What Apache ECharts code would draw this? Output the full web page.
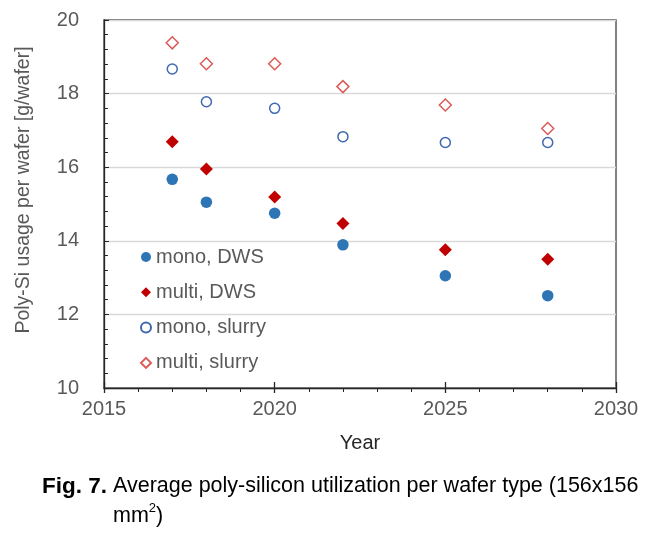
<!DOCTYPE html>
<html>
<head>
<meta charset="utf-8">
<script src="https://cdn.jsdelivr.net/npm/echarts@6/dist/echarts.min.js"></script>
<style>
html,body{margin:0;padding:0;background:#fff;}
#c{width:657px;height:537px;}
</style>
</head>
<body>
<div id="c"></div>
<script>
const years = [2017, 2018, 2020, 2022, 2025, 2028];
const monoDWS = [15.67, 15.05, 14.75, 13.89, 13.05, 12.51];
const multiDWS = [16.69, 15.95, 15.19, 14.47, 13.76, 13.50];
const monoSlurry = [18.67, 17.78, 17.60, 16.83, 16.67, 16.67];
const multiSlurry = [19.38, 18.81, 18.81, 18.19, 17.69, 17.05];
const seriesNames = ['mono, DWS', 'multi, DWS', 'mono, slurry', 'multi, slurry'];

const pairs = arr => years.map((y, i) => [y, arr[i]]);
const FONT = 'Liberation Sans, Arial, sans-serif';

const chart = echarts.init(document.getElementById('c'), null, {renderer: 'canvas'});
chart.setOption({
  animation: false,
  backgroundColor: '#fff',
  grid: {left: 104, right: 41, top: 20, bottom: 149, show: true, borderColor: '#404040', borderWidth: 1.3, containLabel: false},
  legend: {
    orient: 'vertical', left: 140, top: 247, itemGap: 15.3, padding: 0,
    itemWidth: 10, itemHeight: 10, itemTextGap: 4,
    textStyle: {fontFamily: FONT, fontSize: 20, color: '#595959', lineHeight: 20},
    data: seriesNames
  },
  xAxis: [{
    type: 'value', min: 2015, max: 2030, interval: 5, position: 'bottom',
    name: 'Year', nameLocation: 'middle', nameGap: 45,
    nameTextStyle: {fontFamily: FONT, fontSize: 20, color: '#262626'},
    axisLine: {show: true, lineStyle: {color: '#262626', width: 1.3}},
    axisTick: {show: true, inside: false, length: 5, lineStyle: {color: '#262626', width: 1.3}},
    minorTick: {show: true, splitNumber: 5, length: 4, lineStyle: {color: '#262626', width: 1}},
    axisLabel: {fontFamily: FONT, fontSize: 20, color: '#595959', margin: 11, formatter: v => String(v)},
    splitLine: {show: false}
  }, {
    type: 'value', min: 2015, max: 2030, interval: 5, position: 'bottom',
    axisLine: {show: false},
    axisTick: {show: true, inside: true, length: 6, lineStyle: {color: '#262626', width: 1.3}},
    axisLabel: {show: false},
    splitLine: {show: false}
  }],
  yAxis: {
    type: 'value', min: 10, max: 20, interval: 2,
    name: 'Poly-Si usage per wafer [g/wafer]', nameLocation: 'middle', nameGap: 70,
    nameTextStyle: {fontFamily: FONT, fontSize: 19.5, color: '#595959', padding: [0, 0, 0, 28]},
    axisLine: {show: true, lineStyle: {color: '#262626', width: 1.3}},
    axisTick: {show: true, inside: true, length: 5, lineStyle: {color: '#262626', width: 1}},
    minorTick: {show: true, splitNumber: 5, length: 4, lineStyle: {color: '#262626', width: 1}},
    axisLabel: {fontFamily: FONT, fontSize: 20, color: '#595959', margin: 25},
    splitLine: {show: true, lineStyle: {color: '#d9d9d9', width: 1.3}}
  },
  series: [
    {name: seriesNames[0], type: 'scatter', xAxisIndex: 0, data: pairs(monoDWS), symbol: 'circle', symbolSize: 11.5,
     itemStyle: {color: '#2E75B6', opacity: 1}},
    {name: seriesNames[1], type: 'scatter', xAxisIndex: 0, data: pairs(multiDWS), symbol: 'diamond', symbolSize: 13,
     itemStyle: {color: '#C00000', opacity: 1}},
    {name: seriesNames[2], type: 'scatter', xAxisIndex: 0, data: pairs(monoSlurry), symbol: 'circle', symbolSize: 10,
     itemStyle: {color: '#ffffff', borderColor: '#3F68B0', borderWidth: 1.5, opacity: 1}},
    {name: seriesNames[3], type: 'scatter', xAxisIndex: 0, data: pairs(multiSlurry), symbol: 'diamond', symbolSize: 12,
     itemStyle: {color: '#ffffff', borderColor: '#DB5B57', borderWidth: 1.5, opacity: 1}}
  ],
  graphic: [{
    type: 'text', left: 42, top: 475,
    style: {
      text: '{b|Fig. 7.}{n| Average poly-silicon utilization per wafer type (156x156}\n{ind|}{n|mm}{sup|2}{n|)}',
      rich: {
        b: {fontFamily: FONT, fontSize: 22.5, fontWeight: 'bold', color: '#000', lineHeight: 30},
        n: {fontFamily: FONT, fontSize: 21.5, color: '#000', lineHeight: 30},
        ind: {width: 71, lineHeight: 30},
        sup: {fontFamily: FONT, fontSize: 13, color: '#000', verticalAlign: 'top', lineHeight: 30, padding: [0, 0, 10, 0]}
      }
    }
  }]
});
</script>
</body>
</html>
